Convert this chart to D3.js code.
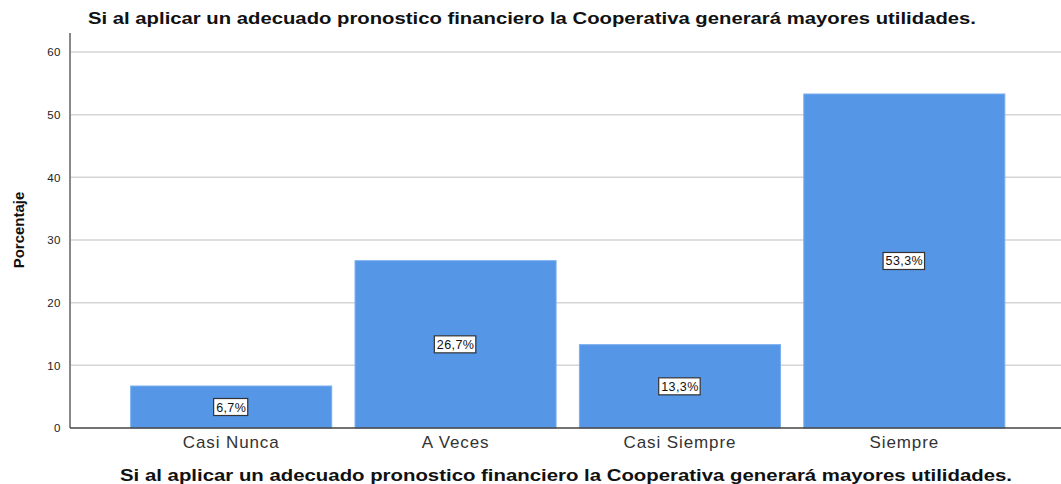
<!DOCTYPE html>
<html>
<head>
<meta charset="utf-8">
<script src="https://cdn.jsdelivr.net/npm/d3@7"></script>
<style>
  body { margin: 0; background: #fff; }
  svg { display: block; font-family: "Liberation Sans", Arial, sans-serif; }
</style>
</head>
<body>
<svg id="chart" width="1061" height="484"></svg>
<script>
var categories = ["Casi Nunca", "A Veces", "Casi Siempre", "Siempre"];
var percentages = [6.7, 26.7, 13.3, 53.3];
var yTicks = [0, 10, 20, 30, 40, 50, 60];
var titleText = "Si al aplicar un adecuado pronostico financiero la Cooperativa generará mayores utilidades.";

var width = 1061, height = 484;
var margin = {top: 33, right: 0, bottom: 56, left: 70};

var svg = d3.select("#chart");

var x = d3.scaleBand()
  .domain(categories)
  .range([119, 1016.5])
  .paddingInner(0.104)
  .paddingOuter(0.052);

var y = d3.scaleLinear()
  .domain([0, 60])
  .range([428, 52]);

// gridlines
svg.append("g")
  .selectAll("line")
  .data(yTicks.filter(function(d){ return d > 0; }))
  .enter().append("line")
  .attr("x1", margin.left)
  .attr("x2", width)
  .attr("y1", function(d){ return y(d); })
  .attr("y2", function(d){ return y(d); })
  .attr("stroke", "#d4d4d4")
  .attr("stroke-width", 1.5);

// bars
svg.append("g")
  .selectAll("rect")
  .data(percentages)
  .enter().append("rect")
  .attr("x", function(d, i){ return x(categories[i]); })
  .attr("y", function(d){ return y(d); })
  .attr("width", x.bandwidth())
  .attr("height", function(d){ return y(0) - y(d); })
  .attr("fill", "#5596e6")
  .attr("stroke", "#7aaef0")
  .attr("stroke-width", 1);

// y axis
var yAxis = d3.axisLeft(y).tickValues(yTicks).tickSize(0).tickPadding(9);
var gy = svg.append("g")
  .attr("transform", "translate(" + margin.left + ",0)")
  .call(yAxis);
gy.select(".domain").remove();
gy.selectAll("text")
  .attr("font-size", 11.5)
  .attr("letter-spacing", 0.5)
  .attr("fill", "#222")
  .attr("font-family", "Liberation Sans, Arial, sans-serif");

svg.append("line")
  .attr("x1", margin.left).attr("x2", margin.left)
  .attr("y1", margin.top).attr("y2", y(0))
  .attr("stroke", "#888").attr("stroke-width", 2);

// x axis
var xAxis = d3.axisBottom(x).tickSize(0).tickPadding(8);
var gx = svg.append("g")
  .attr("transform", "translate(0," + y(0) + ")")
  .call(xAxis);
gx.select(".domain").remove();
gx.selectAll("text")
  .attr("font-size", 17)
  .attr("letter-spacing", 0.9)
  .attr("fill", "#333")
  .attr("font-family", "Liberation Sans, Arial, sans-serif");

svg.append("line")
  .attr("x1", margin.left).attr("x2", width)
  .attr("y1", y(0)).attr("y2", y(0))
  .attr("stroke", "#444").attr("stroke-width", 1.5);

// value labels
var labels = svg.append("g")
  .selectAll("g")
  .data(percentages)
  .enter().append("g")
  .attr("transform", function(d, i){
    return "translate(" + (x(categories[i]) + x.bandwidth() / 2) + "," + y(d / 2) + ")";
  });

labels.each(function(d){
  var g = d3.select(this);
  var t = g.append("text")
    .attr("text-anchor", "middle")
    .attr("dy", "0.36em")
    .attr("font-size", 12.5)
    .attr("letter-spacing", 0.4)
    .attr("fill", "#111")
    .text(d.toFixed(1).replace(".", ",") + "%");
  var bb = t.node().getBBox();
  g.insert("rect", "text")
    .attr("x", bb.x - 2.5)
    .attr("y", -8.5)
    .attr("width", bb.width + 4)
    .attr("height", 17)
    .attr("fill", "#fff")
    .attr("stroke", "#333")
    .attr("stroke-width", 1.2);
});

// titles
svg.append("text")
  .attr("x", 88)
  .attr("y", 24)
  .attr("textLength", 888)
  .attr("lengthAdjust", "spacingAndGlyphs")
  .attr("font-size", 16.5)
  .attr("font-weight", "bold")
  .attr("fill", "#111")
  .text(titleText);

svg.append("text")
  .attr("x", 120)
  .attr("y", 481)
  .attr("textLength", 892)
  .attr("lengthAdjust", "spacingAndGlyphs")
  .attr("font-size", 16.5)
  .attr("font-weight", "bold")
  .attr("fill", "#111")
  .text(titleText);

svg.append("text")
  .attr("transform", "translate(24,230) rotate(-90)")
  .attr("text-anchor", "middle")
  .attr("font-size", 15)
  .attr("font-weight", "bold")
  .attr("font-family", "Liberation Sans Narrow, Arial Narrow, sans-serif")
  .attr("fill", "#111")
  .text("Porcentaje");
</script>
</body>
</html>
